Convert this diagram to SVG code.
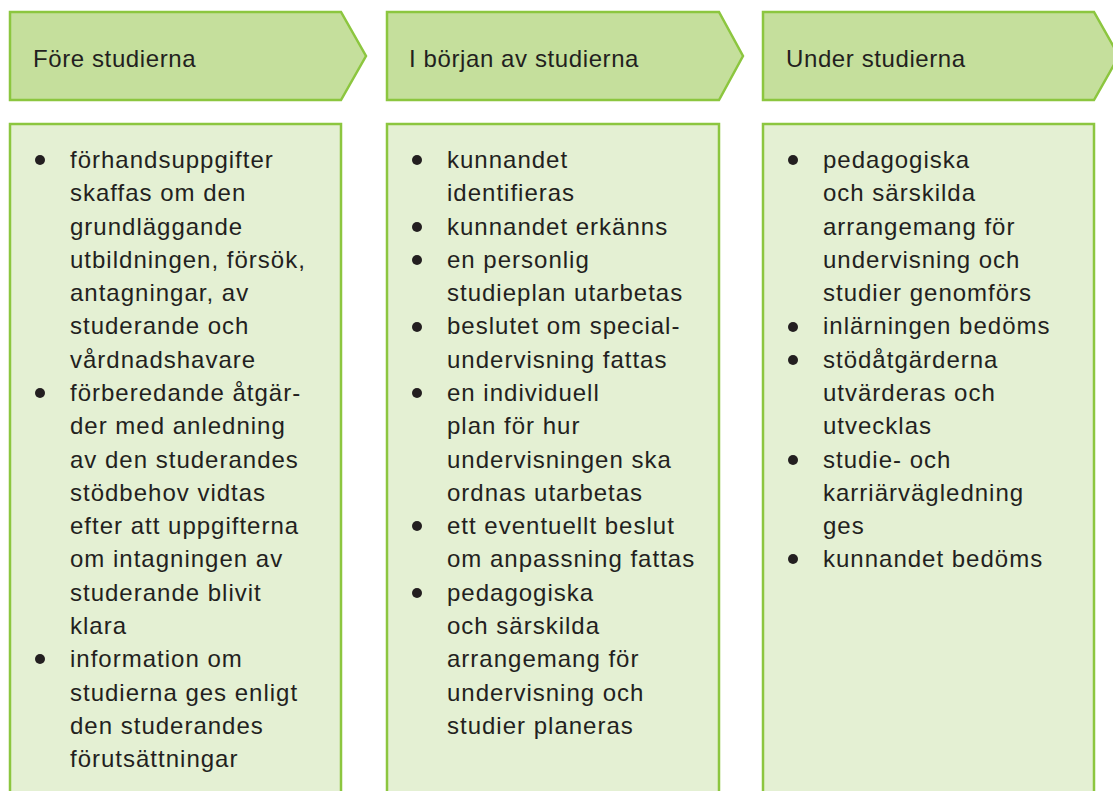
<svg xmlns="http://www.w3.org/2000/svg" width="1113" height="791" viewBox="0 0 1113 791">
<style>
.hdr{fill:#c5df9c;stroke:#8cc63f;stroke-width:2.5}
.box{fill:#e4f0d3;stroke:#8cc63f;stroke-width:2.5}
.ht{font-family:"Liberation Sans",Arial,sans-serif;font-size:24px;fill:#231f20;letter-spacing:0.6px}
.bt{font-family:"Liberation Sans",Arial,sans-serif;font-size:24px;fill:#231f20;letter-spacing:1px}
.bl{fill:#231f20}
</style>
<rect width="1113" height="791" fill="#ffffff"/>
<g id="col1">
<polygon class="hdr" points="10,12 341,12 366,56 341,100 10,100"/>
<text class="ht" x="33" y="67">Före studierna</text>
<rect class="box" x="10" y="124" width="331" height="680"/>
<circle class="bl" cx="40" cy="160" r="5"/>
<circle class="bl" cx="40" cy="393" r="5"/>
<circle class="bl" cx="40" cy="659" r="5"/>
<text class="bt">
<tspan x="70" y="168">förhandsuppgifter</tspan>
<tspan x="70" y="201.3">skaffas om den</tspan>
<tspan x="70" y="234.6">grundläggande</tspan>
<tspan x="70" y="267.8">utbildningen, försök,</tspan>
<tspan x="70" y="301.1">antagningar, av</tspan>
<tspan x="70" y="334.4">studerande och</tspan>
<tspan x="70" y="367.7">vårdnadshavare</tspan>
<tspan x="70" y="401">förberedande åtgär-</tspan>
<tspan x="70" y="434.2">der med anledning</tspan>
<tspan x="70" y="467.5">av den studerandes</tspan>
<tspan x="70" y="500.8">stödbehov vidtas</tspan>
<tspan x="70" y="534.1">efter att uppgifterna</tspan>
<tspan x="70" y="567.4">om intagningen av</tspan>
<tspan x="70" y="600.6">studerande blivit</tspan>
<tspan x="70" y="633.9">klara</tspan>
<tspan x="70" y="667.2">information om</tspan>
<tspan x="70" y="700.5">studierna ges enligt</tspan>
<tspan x="70" y="733.8">den studerandes</tspan>
<tspan x="70" y="767">förutsättningar</tspan>
</text>
</g>
<g id="col2">
<polygon class="hdr" points="387,12 719,12 743,56 719,100 387,100"/>
<text class="ht" x="409" y="67">I början av studierna</text>
<rect class="box" x="387" y="124" width="332" height="680"/>
<circle class="bl" cx="417" cy="160" r="5"/>
<circle class="bl" cx="417" cy="227" r="5"/>
<circle class="bl" cx="417" cy="260" r="5"/>
<circle class="bl" cx="417" cy="327" r="5"/>
<circle class="bl" cx="417" cy="393" r="5"/>
<circle class="bl" cx="417" cy="526" r="5"/>
<circle class="bl" cx="417" cy="593" r="5"/>
<text class="bt">
<tspan x="447" y="168">kunnandet</tspan>
<tspan x="447" y="201.3">identifieras</tspan>
<tspan x="447" y="234.6">kunnandet erkänns</tspan>
<tspan x="447" y="267.8">en personlig</tspan>
<tspan x="447" y="301.1">studieplan utarbetas</tspan>
<tspan x="447" y="334.4">beslutet om special-</tspan>
<tspan x="447" y="367.7">undervisning fattas</tspan>
<tspan x="447" y="401">en individuell</tspan>
<tspan x="447" y="434.2">plan för hur</tspan>
<tspan x="447" y="467.5">undervisningen ska</tspan>
<tspan x="447" y="500.8">ordnas utarbetas</tspan>
<tspan x="447" y="534.1">ett eventuellt beslut</tspan>
<tspan x="447" y="567.4">om anpassning fattas</tspan>
<tspan x="447" y="600.6">pedagogiska</tspan>
<tspan x="447" y="633.9">och särskilda</tspan>
<tspan x="447" y="667.2">arrangemang för</tspan>
<tspan x="447" y="700.5">undervisning och</tspan>
<tspan x="447" y="733.8">studier planeras</tspan>
</text>
</g>
<g id="col3">
<polygon class="hdr" points="763,12 1094,12 1119,56 1094,100 763,100"/>
<text class="ht" x="786" y="67">Under studierna</text>
<rect class="box" x="763" y="124" width="331" height="680"/>
<circle class="bl" cx="793" cy="160" r="5"/>
<circle class="bl" cx="793" cy="327" r="5"/>
<circle class="bl" cx="793" cy="360" r="5"/>
<circle class="bl" cx="793" cy="460" r="5"/>
<circle class="bl" cx="793" cy="559" r="5"/>
<text class="bt">
<tspan x="823" y="168">pedagogiska</tspan>
<tspan x="823" y="201.3">och särskilda</tspan>
<tspan x="823" y="234.6">arrangemang för</tspan>
<tspan x="823" y="267.8">undervisning och</tspan>
<tspan x="823" y="301.1">studier genomförs</tspan>
<tspan x="823" y="334.4">inlärningen bedöms</tspan>
<tspan x="823" y="367.7">stödåtgärderna</tspan>
<tspan x="823" y="401">utvärderas och</tspan>
<tspan x="823" y="434.2">utvecklas</tspan>
<tspan x="823" y="467.5">studie- och</tspan>
<tspan x="823" y="500.8">karriärvägledning</tspan>
<tspan x="823" y="534.1">ges</tspan>
<tspan x="823" y="567.4">kunnandet bedöms</tspan>
</text>
</g>
</svg>
